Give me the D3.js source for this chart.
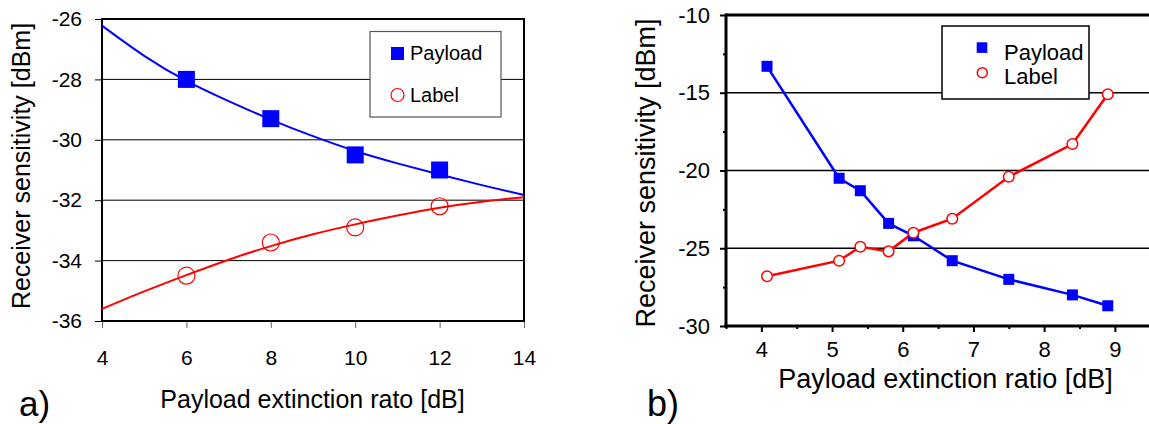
<!DOCTYPE html>
<html><head><meta charset="utf-8">
<script src="https://cdn.jsdelivr.net/npm/d3@7"></script>
<style>
body{margin:0;background:#fff;}
svg{display:block;}
text{font-family:"Liberation Sans",Arial,Helvetica,sans-serif;fill:#000;}
.tick text{fill:#000;}
</style>
</head><body>
<svg id="c" width="1149" height="424"></svg>
<script>
// ---------- Panel a) data ----------
const aTicksX = [4, 6, 8, 10, 12, 14];
const aTicksY = [-36, -34, -32, -30, -28, -26];
const aGridY = [-34, -32, -30, -28];
const aMarkX = [6, 8, 10, 12];
const aPayload = [-28.0, -29.3, -30.5, -31.0];
const aLabel = [-34.5, -33.4, -32.9, -32.2];
const aFitX = [4, 5, 6, 7, 8, 9, 10, 11, 12, 13, 14];
const aPayloadFit = [-26.22, -27.22, -28.05, -28.72, -29.33, -29.88, -30.37, -30.78, -31.15, -31.5, -31.83];
const aLabelFit = [-35.6, -35.02, -34.48, -33.97, -33.52, -33.13, -32.8, -32.51, -32.25, -32.05, -31.9];
// ---------- Panel b) data ----------
const bTicksX = [4, 5, 6, 7, 8, 9];
const bMinorX = [3.5, 4.5, 5.5, 6.5, 7.5, 8.5];
const bTicksY = [-30, -25, -20, -15, -10];
const bMinorY = [-27.5, -22.5, -17.5, -12.5];
const bGridY = [-25, -20, -15];
const bX = [4.08, 5.1, 5.4, 5.8, 6.15, 6.7, 7.5, 8.4, 8.9];
const bPayload = [-13.3, -20.5, -21.3, -23.4, -24.2, -25.8, -27.0, -28.0, -28.7];
const bLabel = [-26.8, -25.8, -24.9, -25.2, -24.0, -23.1, -20.4, -18.3, -15.1];
const seriesNames = ["Payload", "Label"];
const BLUE = "#0000ff", RED = "#ff0000";
const FONT = "Liberation Sans, Arial, Helvetica, sans-serif";
const fmt = d => String(d);

const svg = d3.select("#c");

function styleText(sel, size) {
  sel.attr("font-size", size).style("font-size", size + "px")
     .style("font-family", FONT).attr("fill", "#000").style("fill", "#000");
}

// ================= Panel a =================
const ax = d3.scaleLinear().domain([4, 14]).range([102, 524]);
const ay = d3.scaleLinear().domain([-36, -26]).range([321, 19]);
const ga = svg.append("g");

ga.selectAll("line.grid").data(aGridY).join("line")
  .attr("x1", ax(4)).attr("x2", ax(14))
  .attr("y1", d => ay(d)).attr("y2", d => ay(d))
  .attr("stroke", "#000").attr("stroke-width", 1);

const aYAxis = ga.append("g").attr("transform", `translate(${ax(4)},0)`)
  .call(d3.axisLeft(ay).tickValues(aTicksY).tickSize(7).tickPadding(13).tickFormat(fmt));
aYAxis.attr("font-size", null).attr("font-family", null);
aYAxis.select(".domain").remove();
aYAxis.selectAll("line").attr("stroke", "#000").attr("stroke-width", 1);
styleText(aYAxis.selectAll("text"), 21);

const aXAxis = ga.append("g").attr("transform", `translate(0,${ay(-36)})`)
  .call(d3.axisBottom(ax).tickValues(aTicksX).tickSize(7).tickFormat(fmt));
aXAxis.attr("font-size", null).attr("font-family", null);
aXAxis.select(".domain").remove();
aXAxis.selectAll("line").attr("stroke", "#666").attr("stroke-width", 1);
styleText(aXAxis.selectAll("text"), 21);
aXAxis.selectAll("text").attr("y", 44).attr("dy", 0);

ga.append("rect").attr("x", ax(4)).attr("y", ay(-26))
  .attr("width", ax(14) - ax(4)).attr("height", ay(-36) - ay(-26))
  .attr("fill", "none").attr("stroke", "#000").attr("stroke-width", 2);

// legend
ga.append("rect").attr("x", 370).attr("y", 31.5).attr("width", 131).attr("height", 85.5)
  .attr("fill", "#fff").attr("stroke", "#555").attr("stroke-width", 1.2);
ga.append("rect").attr("x", 391).attr("y", 47).attr("width", 13).attr("height", 13).attr("fill", BLUE);
ga.append("circle").attr("cx", 397.5).attr("cy", 95).attr("r", 6.5)
  .attr("fill", "none").attr("stroke", RED).attr("stroke-width", 1.2);
styleText(ga.append("text").attr("x", 410).attr("y", 60).text(seriesNames[0]), 20);
styleText(ga.append("text").attr("x", 410).attr("y", 102).text(seriesNames[1]), 20);

// fitted curves
const aLine = d3.line().x(d => ax(d[0])).y(d => ay(d[1])).curve(d3.curveNatural);
ga.append("path").datum(d3.zip(aFitX, aPayloadFit)).attr("d", aLine)
  .attr("fill", "none").attr("stroke", BLUE).attr("stroke-width", 2);
ga.append("path").datum(d3.zip(aFitX, aLabelFit)).attr("d", aLine)
  .attr("fill", "none").attr("stroke", RED).attr("stroke-width", 2);

// markers
const aSq = 17;
ga.selectAll("rect.pa").data(d3.zip(aMarkX, aPayload)).join("rect")
  .attr("x", d => ax(d[0]) - aSq / 2).attr("y", d => ay(d[1]) - aSq / 2)
  .attr("width", aSq).attr("height", aSq).attr("fill", BLUE);
ga.selectAll("circle.la").data(d3.zip(aMarkX, aLabel)).join("circle")
  .attr("cx", d => ax(d[0])).attr("cy", d => ay(d[1])).attr("r", 8.5)
  .attr("fill", "none").attr("stroke", RED).attr("stroke-width", 1.2);

// titles
styleText(ga.append("text").attr("x", 312.5).attr("y", 408).attr("text-anchor", "middle")
  .text("Payload extinction rato [dB]"), 25);
styleText(ga.append("text").attr("transform", "translate(30,166) rotate(-90)").attr("text-anchor", "middle")
  .text("Receiver sensitivity [dBm]"), 25);
styleText(ga.append("text").attr("x", 19).attr("y", 416).text("a)"), 35);

// ================= Panel b =================
const bx = d3.scaleLinear().domain([3.5, 9.5]).range([726, 1150.2]);
const by = d3.scaleLinear().domain([-30, -10]).range([326, 15]);
const gb = svg.append("g");

gb.selectAll("line.grid").data(bGridY).join("line")
  .attr("x1", bx(3.5)).attr("x2", 1149)
  .attr("y1", d => by(d)).attr("y2", d => by(d))
  .attr("stroke", "#000").attr("stroke-width", 1.6);
gb.append("line").attr("x1", bx(3.5)).attr("x2", 1149).attr("y1", by(-10)).attr("y2", by(-10))
  .attr("stroke", "#000").attr("stroke-width", 3);

const bYAxis = gb.append("g").attr("transform", `translate(${bx(3.5)},0)`)
  .call(d3.axisLeft(by).tickValues(bTicksY).tickSize(6).tickPadding(10).tickFormat(fmt));
bYAxis.attr("font-size", null).attr("font-family", null);
bYAxis.select(".domain").remove();
bYAxis.selectAll("line").attr("stroke", "#000").attr("stroke-width", 2);
styleText(bYAxis.selectAll("text"), 22);
const bYMinor = gb.append("g").attr("transform", `translate(${bx(3.5)},0)`)
  .call(d3.axisLeft(by).tickValues(bMinorY).tickSize(3).tickFormat(""));
bYMinor.select(".domain").remove();
bYMinor.selectAll("line").attr("stroke", "#000").attr("stroke-width", 2);

const bXAxis = gb.append("g").attr("transform", `translate(0,${by(-30)})`)
  .call(d3.axisBottom(bx).tickValues(bTicksX).tickSize(6).tickFormat(fmt));
bXAxis.attr("font-size", null).attr("font-family", null);
bXAxis.select(".domain").remove();
bXAxis.selectAll("line").attr("stroke", "#000").attr("stroke-width", 2);
styleText(bXAxis.selectAll("text"), 22);
bXAxis.selectAll("text").attr("y", 31).attr("dy", 0);
const bXMinor = gb.append("g").attr("transform", `translate(0,${by(-30)})`)
  .call(d3.axisBottom(bx).tickValues(bMinorX).tickSize(3).tickFormat(""));
bXMinor.select(".domain").remove();
bXMinor.selectAll("line").attr("stroke", "#000").attr("stroke-width", 2);

gb.append("line").attr("x1", bx(3.5)).attr("x2", bx(3.5)).attr("y1", by(-10) - 1.5).attr("y2", by(-30) + 1.5)
  .attr("stroke", "#000").attr("stroke-width", 3);
gb.append("line").attr("x1", bx(3.5) - 1.5).attr("x2", 1149).attr("y1", by(-30)).attr("y2", by(-30))
  .attr("stroke", "#000").attr("stroke-width", 3);

// legend
gb.append("rect").attr("x", 942).attr("y", 26).attr("width", 147).attr("height", 73)
  .attr("fill", "#fff").attr("stroke", "#000").attr("stroke-width", 1.5);
gb.append("rect").attr("x", 976.7).attr("y", 42.3).attr("width", 10.6).attr("height", 10.6).attr("fill", BLUE);
gb.append("circle").attr("cx", 982.3).attr("cy", 72.7).attr("r", 5)
  .attr("fill", "#fff").attr("stroke", RED).attr("stroke-width", 1.5);
styleText(gb.append("text").attr("x", 1004).attr("y", 60).text(seriesNames[0]), 22);
styleText(gb.append("text").attr("x", 1004).attr("y", 84).text(seriesNames[1]), 22);

// lines
const bLine = d3.line().x(d => bx(d[0])).y(d => by(d[1]));
gb.append("path").datum(d3.zip(bX, bPayload)).attr("d", bLine)
  .attr("fill", "none").attr("stroke", BLUE).attr("stroke-width", 2.5);
gb.append("path").datum(d3.zip(bX, bLabel)).attr("d", bLine)
  .attr("fill", "none").attr("stroke", RED).attr("stroke-width", 2.5);

// markers
const bSq = 11;
gb.selectAll("rect.pb").data(d3.zip(bX, bPayload)).join("rect")
  .attr("x", d => bx(d[0]) - bSq / 2).attr("y", d => by(d[1]) - bSq / 2)
  .attr("width", bSq).attr("height", bSq).attr("fill", BLUE);
gb.selectAll("circle.lb").data(d3.zip(bX, bLabel)).join("circle")
  .attr("cx", d => bx(d[0])).attr("cy", d => by(d[1])).attr("r", 5.3)
  .attr("fill", "#fff").attr("stroke", RED).attr("stroke-width", 1.5);

// titles
styleText(gb.append("text").attr("x", 945.5).attr("y", 388).attr("text-anchor", "middle")
  .text("Payload extinction ratio [dB]"), 27);
styleText(gb.append("text").attr("transform", "translate(655,173) rotate(-90)").attr("text-anchor", "middle")
  .text("Receiver sensitivity [dBm]"), 27);
styleText(gb.append("text").attr("x", 647).attr("y", 416).text("b)"), 36);
</script>
</body></html>
